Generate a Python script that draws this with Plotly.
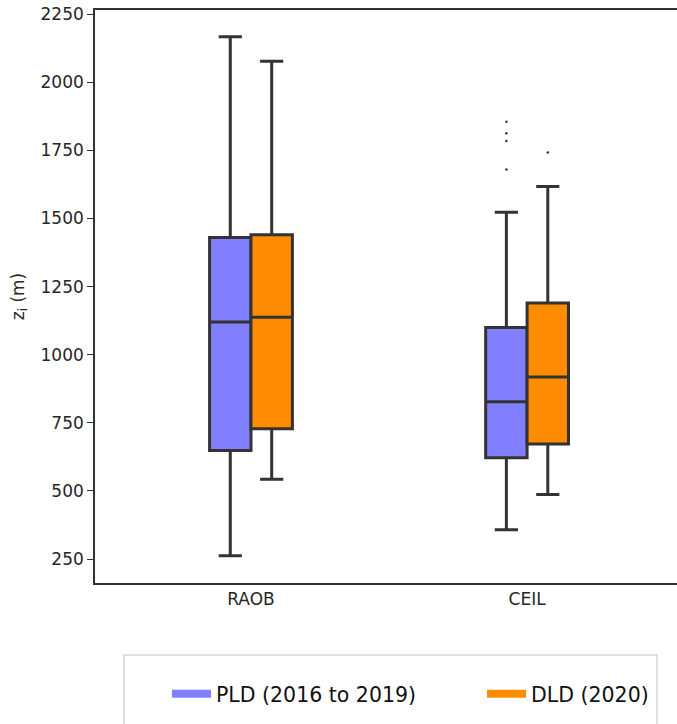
import plotly.graph_objects as go

categories = ["RAOB", "CEIL"]
series_names = ["PLD (2016 to 2019)", "DLD (2020)"]
colors = ["#8080FF", "#FF8C00"]

# PLD stats per category
pld_lower = [262, 357]
pld_q1 = [648, 622]
pld_median = [1120, 827]
pld_q3 = [1430, 1100]
pld_upper = [2167, 1523]
pld_outlier_x = ["CEIL", "CEIL", "CEIL", "CEIL"]
pld_outlier_y = [1680, 1784, 1813, 1855]

# DLD stats per category
dld_lower = [543, 487]
dld_q1 = [728, 672]
dld_median = [1137, 918]
dld_q3 = [1440, 1190]
dld_upper = [2077, 1617]
dld_outlier_x = ["CEIL"]
dld_outlier_y = [1742]

y_ticks = [250, 500, 750, 1000, 1250, 1500, 1750, 2000, 2250]

FONT = "DejaVu Sans"
EDGE = "#333333"

fig = go.Figure()

stats = [
    (pld_lower, pld_q1, pld_median, pld_q3, pld_upper, pld_outlier_x, pld_outlier_y),
    (dld_lower, dld_q1, dld_median, dld_q3, dld_upper, dld_outlier_x, dld_outlier_y),
]

for k, (name, color, (lo, q1, med, q3, up, ox, oy)) in enumerate(zip(series_names, colors, stats)):
    fig.add_trace(go.Box(
        name=name,
        x=categories,
        q1=q1, median=med, q3=q3,
        lowerfence=lo, upperfence=up,
        boxpoints=False,
        fillcolor=color,
        line=dict(color=EDGE, width=3),
        whiskerwidth=0.56,
        offsetgroup=str(k),
        showlegend=False,
    ))

for k, (name, (lo, q1, med, q3, up, ox, oy)) in enumerate(zip(series_names, stats)):
    fig.add_trace(go.Scatter(
        x=ox, y=oy, mode="markers",
        marker=dict(color=EDGE, size=2.5, line=dict(width=0)),
        offsetgroup=str(k),
        showlegend=False, hoverinfo="y",
    ))

legend_ids = ["legend", "legend2"]
for name, color, lid in zip(series_names, colors, legend_ids):
    fig.add_trace(go.Scatter(
        x=[None], y=[None], mode="lines", name=name,
        line=dict(color=color, width=8),
        showlegend=True, legend=lid,
    ))

leg_common = dict(
    orientation="h",
    xanchor="left",
    y=-0.1937, yanchor="middle",
    borderwidth=0,
    bgcolor="rgba(0,0,0,0)",
    itemwidth=39,
    font=dict(family=FONT, size=20.5, color="#111111"),
)

fig.update_layout(
    width=677, height=724,
    margin=dict(l=95, r=0, t=10, b=141, autoexpand=False),
    paper_bgcolor="white", plot_bgcolor="white",
    boxmode="group", boxgap=0.7, boxgroupgap=0,
    scattermode="group", scattergap=0.7,
    font=dict(family=FONT, color="#262626", size=17),
    showlegend=True,
    legend=dict(x=0.1237, **leg_common),
    legend2=dict(x=0.665, **leg_common),
    xaxis=dict(
        type="category",
        range=[-0.565, 1.543],
        showline=True, linecolor=EDGE, linewidth=1.6, mirror=True,
        ticks="", showgrid=False, zeroline=False,
        tickfont=dict(family=FONT, size=17, color="#262626"),
    ),
    yaxis=dict(
        range=[162, 2265],
        tickvals=y_ticks,
        showline=True, linecolor=EDGE, linewidth=1.6,
        ticks="outside", ticklen=6, tickwidth=1.4, tickcolor=EDGE,
        showgrid=False, zeroline=False,
        tickfont=dict(family=FONT, size=17, color="#262626"),
        title=dict(text="z<sub>i</sub> (m)", font=dict(family=FONT, size=17, color="#262626"), standoff=12),
    ),
    shapes=[dict(
        type="rect", xref="paper", yref="paper",
        x0=0.0498, x1=0.9656, y0=-0.274, y1=-0.1257,
        line=dict(color="#d6d6d6", width=1.6), fillcolor="rgba(0,0,0,0)",
        layer="below",
    )],
)

fig.write_html(
    "out.html",
    config={"displayModeBar": False},
    post_script="document.body.style.margin='0';document.body.style.overflow='hidden';",
)
